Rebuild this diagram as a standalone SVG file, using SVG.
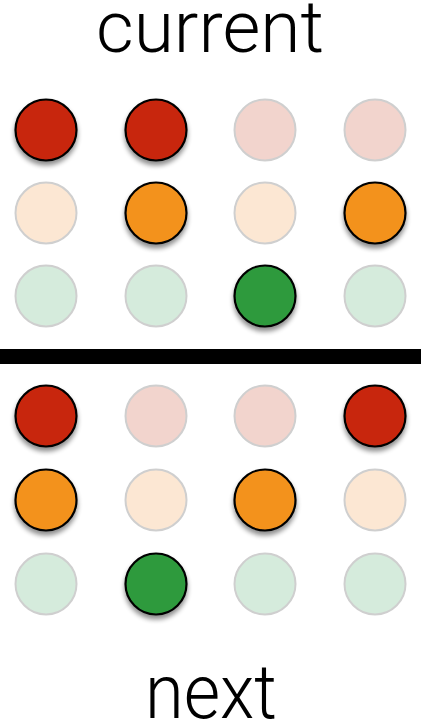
<svg xmlns="http://www.w3.org/2000/svg" width="421" height="726" viewBox="0 0 421 726">
<defs>
<filter id="sh" x="-30%" y="-30%" width="160%" height="170%">
<feGaussianBlur in="SourceAlpha" stdDeviation="2.5"/>
<feOffset dx="0" dy="4" result="b"/>
<feComponentTransfer><feFuncA type="linear" slope="0.45"/></feComponentTransfer>
<feMerge><feMergeNode/><feMergeNode in="SourceGraphic"/></feMerge>
</filter>
</defs>
<style>
.t{font-family:Roboto,"Liberation Sans",sans-serif;font-weight:300;fill:#000;text-anchor:middle}
.on{stroke:#000;stroke-width:2.2;filter:url(#sh)}
.off{stroke:#cfcfcf;stroke-width:2}
.r{fill:#C8260A}.lr{fill:#F2D4CD}
.o{fill:#F3921E}.lo{fill:#FCE7D3}
.g{fill:#2F9A3E}.lg{fill:#D5EBDC}
</style>
<rect width="421" height="726" fill="#fff"/>
<text id="label-current" class="t" x="210" y="52" font-size="72" textLength="228" lengthAdjust="spacingAndGlyphs">current</text>
<text id="label-next" class="t" x="211" y="718" font-size="76" textLength="132" lengthAdjust="spacingAndGlyphs">next</text>
<g id="divider"><rect x="0" y="349" width="421" height="15" fill="#000"/></g>
<g id="current">
<g id="c-r1"><circle class="r on" cx="46" cy="130" r="30.5"/><circle class="r on" cx="156" cy="130" r="30.5"/><circle class="lr off" cx="265" cy="130" r="30.5"/><circle class="lr off" cx="375" cy="130" r="30.5"/></g>
<g id="c-r2"><circle class="lo off" cx="46" cy="213" r="30.5"/><circle class="o on" cx="156" cy="213" r="30.5"/><circle class="lo off" cx="265" cy="213" r="30.5"/><circle class="o on" cx="375" cy="213" r="30.5"/></g>
<g id="c-r3"><circle class="lg off" cx="46" cy="296" r="30.5"/><circle class="lg off" cx="156" cy="296" r="30.5"/><circle class="g on" cx="265" cy="296" r="30.5"/><circle class="lg off" cx="375" cy="296" r="30.5"/></g>
</g>
<g id="next">
<g id="n-r1"><circle class="r on" cx="46" cy="416" r="30.5"/><circle class="lr off" cx="156" cy="416" r="30.5"/><circle class="lr off" cx="265" cy="416" r="30.5"/><circle class="r on" cx="375" cy="416" r="30.5"/></g>
<g id="n-r2"><circle class="o on" cx="46" cy="500" r="30.5"/><circle class="lo off" cx="156" cy="500" r="30.5"/><circle class="o on" cx="265" cy="500" r="30.5"/><circle class="lo off" cx="375" cy="500" r="30.5"/></g>
<g id="n-r3"><circle class="lg off" cx="46" cy="584" r="30.5"/><circle class="g on" cx="156" cy="584" r="30.5"/><circle class="lg off" cx="265" cy="584" r="30.5"/><circle class="lg off" cx="375" cy="584" r="30.5"/></g>
</g>
</svg>
